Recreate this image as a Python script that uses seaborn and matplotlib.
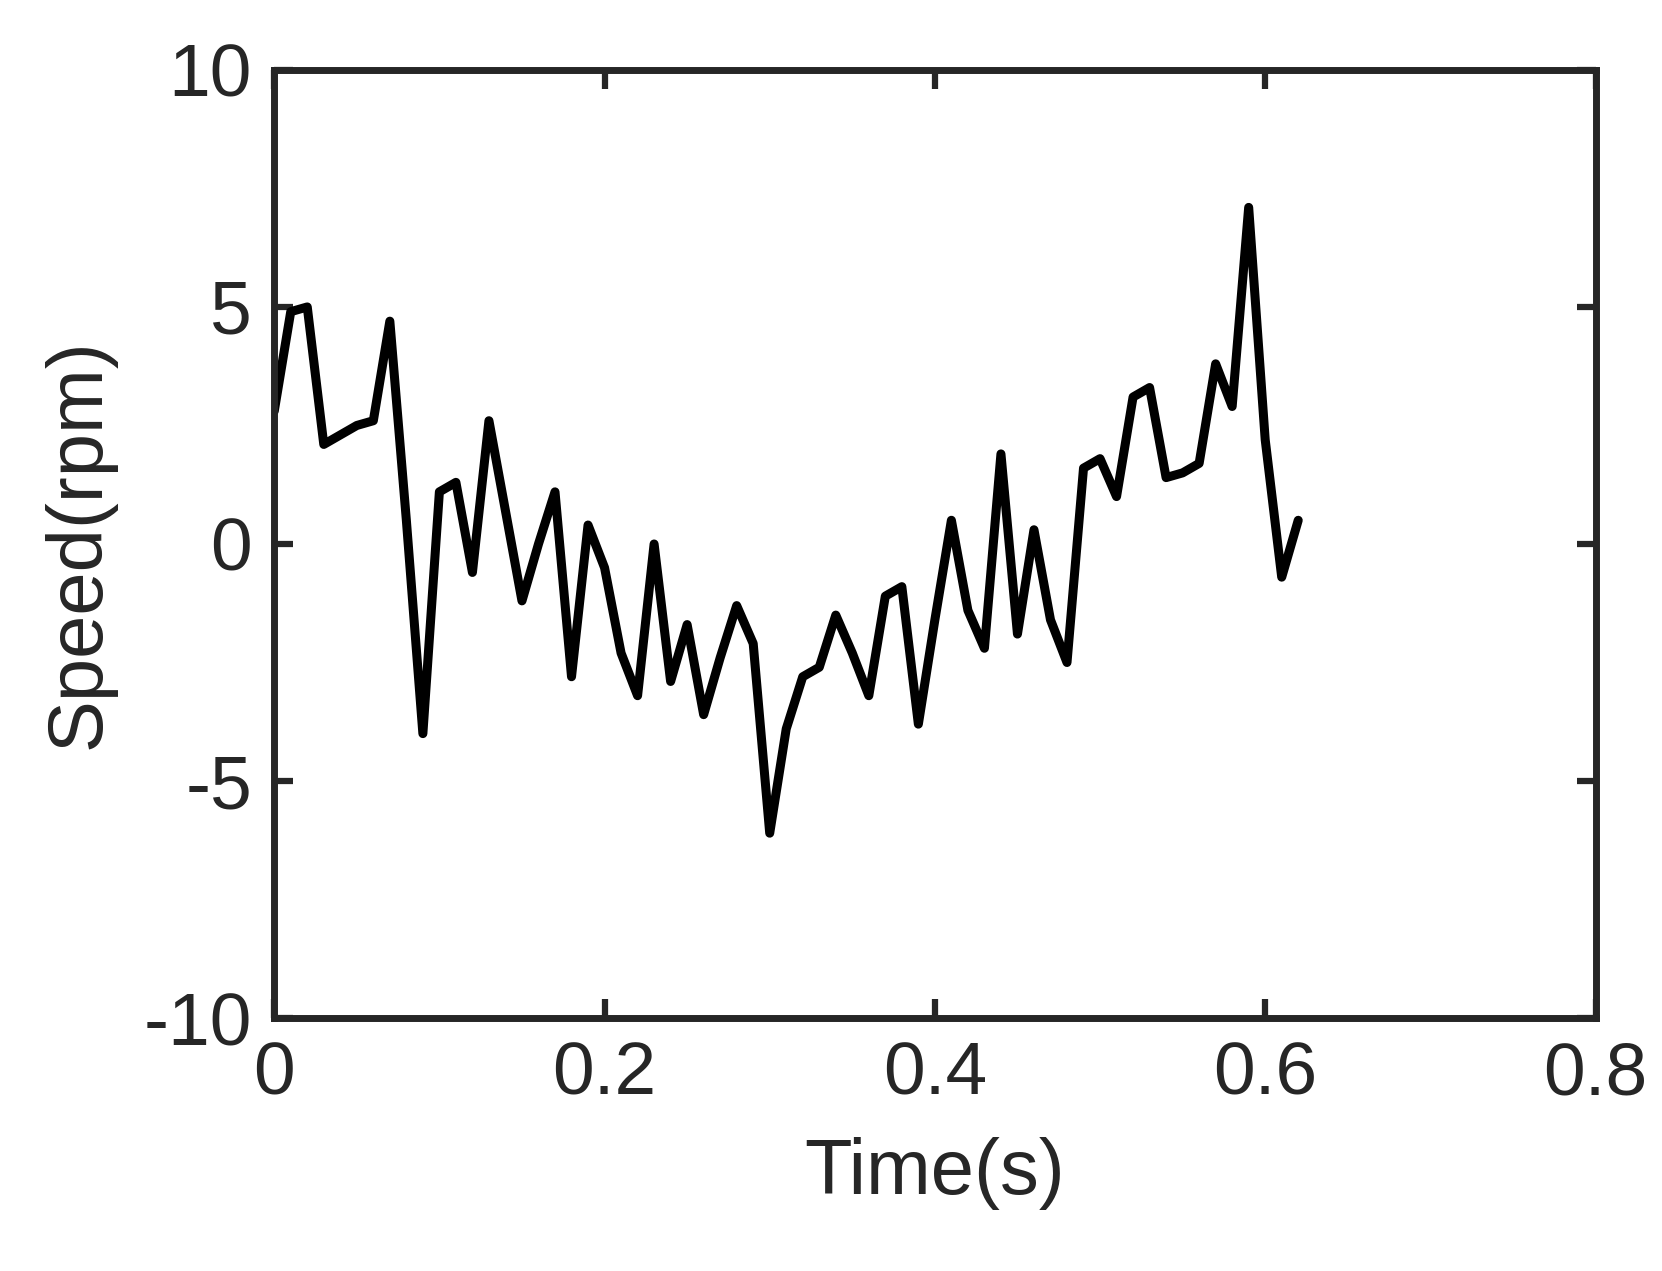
import matplotlib
matplotlib.use("Agg")
import matplotlib.pyplot as plt
import seaborn as sns
import pandas as pd

time_s = [round(i * 0.01, 2) for i in range(63)]
speed_rpm = [2.8, 4.9, 5.0, 2.1, 2.3, 2.5, 2.6, 4.7, 0.5, -4.0,
             1.1, 1.3, -0.6, 2.6, 0.7, -1.2, 0.0, 1.1, -2.8, 0.4,
             -0.5, -2.3, -3.2, 0.0, -2.9, -1.7, -3.6, -2.4, -1.3, -2.1,
             -6.1, -3.9, -2.8, -2.6, -1.5, -2.3, -3.2, -1.1, -0.9, -3.8,
             -1.6, 0.5, -1.4, -2.2, 1.9, -1.9, 0.3, -1.6, -2.5, 1.6,
             1.8, 1.0, 3.1, 3.3, 1.4, 1.5, 1.7, 3.8, 2.9, 7.1,
             2.2, -0.7, 0.5]
xticks = [0, 0.2, 0.4, 0.6, 0.8]
xticklabels = ["0", "0.2", "0.4", "0.6", "0.8"]
yticks = [-10, -5, 0, 5, 10]
yticklabels = ["-10", "-5", "0", "5", "10"]

sns.set_style("white")
plt.rcParams['font.family'] = ['Liberation Sans', 'DejaVu Sans']
df = pd.DataFrame({"t": time_s, "v": speed_rpm})

fig = plt.figure(figsize=(16.62, 12.71), dpi=100)
ax = fig.add_axes([0.165, 0.199, 0.795, 0.746])
sns.lineplot(data=df, x="t", y="v", ax=ax, color="black", linewidth=6.5)
ax.set_xlim(0, 0.8)
ax.set_ylim(-10, 10)
ax.set_xticks(xticks)
ax.set_xticklabels(xticklabels)
ax.set_yticks(yticks)
ax.set_yticklabels(yticklabels)
ax.set_xlabel("Time(s)", fontsize=56, color="#262626", labelpad=20)
ax.set_ylabel("Speed(rpm)", fontsize=56, color="#262626", labelpad=20)
ax.tick_params(direction="in", length=14, width=4.5, labelsize=54, colors="#262626",
               top=True, right=True, bottom=True, left=True, pad=16)
for s in ax.spines.values():
    s.set_linewidth(5)
    s.set_color("#262626")
fig.savefig("out.png", dpi=100)
